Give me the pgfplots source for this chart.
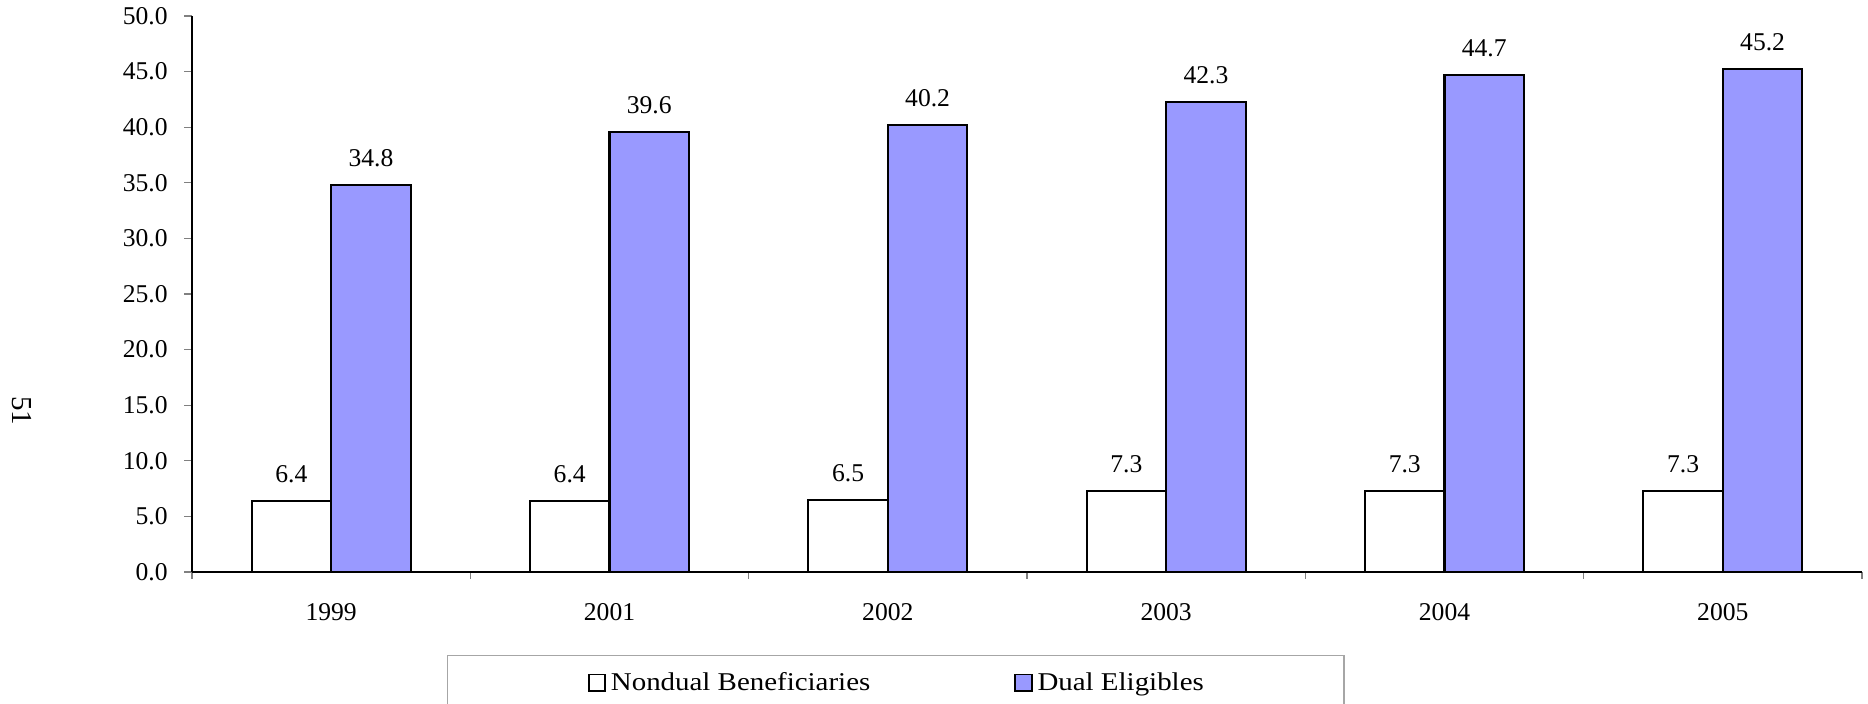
\documentclass[border=0pt]{standalone}
\usepackage{fontspec}
\setmainfont{Liberation Serif}
\newfontfamily\legendfont[FakeStretch=1.13]{Liberation Serif}
\usepackage{pgfplots}
\pgfplotsset{compat=1.18}
\definecolor{dualblue}{HTML}{9999FF}
\pgfplotsset{
  mylegend/.style={legend image code/.code={\draw[##1, line width=0.9pt] (0pt,-4.1pt) rectangle (8.2pt,4.1pt);}}
}
\begin{document}
\begin{tikzpicture}
\path[use as bounding box] (0,0) rectangle (934pt,352pt);
\begin{axis}[
  at={(96pt,66pt)}, anchor=south west,
  scale only axis, width=835pt, height=278pt,
  ybar=0pt, bar width=0.2857,
  xmin=-0.5, xmax=5.5, ymin=0, ymax=50,
  xtick={0,...,5}, xticklabels={1999,2001,2002,2003,2004,2005},
  minor xtick={-0.5,0.5,...,5.5},
  ytick={0,5,...,50},
  axis x line*=bottom, axis y line*=left,
  axis line style={black, line width=0.6pt, -},
  tick align=outside,
  major tick length=4pt, minor tick length=3.5pt,
  major x tick style={draw=none},
  tick style={gray, line width=0.6pt},
  /pgf/number format/.cd, fixed, fixed zerofill, precision=1, assume math mode=true,
  /pgfplots/.cd,
  xticklabel style={font=\fontsize{12.8}{15}\selectfont, inner sep=0pt, anchor=north, yshift=-11.5pt},
  yticklabel style={font=\fontsize{12.8}{15}\selectfont, inner sep=0pt, anchor=east, xshift=-8pt},
  nodes near coords,
  every node near coord/.append style={font=\fontsize{12.8}{15}\selectfont, anchor=south, inner sep=0pt, yshift=8.5pt, black},
  legend columns=2,
  legend style={at={(0.1527,-0.1493)}, anchor=north west, draw=gray!70, line width=0.7pt,
    font={\legendfont\fontsize{12.8}{15}\selectfont},
    inner xsep=70pt, inner ysep=8.25pt,
    nodes={inner sep=0pt}, cells={anchor=west},
    /tikz/every even column/.append style={column sep=72pt},
    /tikz/every odd column/.append style={column sep=2.5pt}},
]
\addplot[draw=black, fill=white, line width=1.1pt, mylegend] coordinates {(0,6.4)(1,6.4)(2,6.5)(3,7.3)(4,7.3)(5,7.3)};
\addplot[draw=black, fill=dualblue, line width=1.1pt, mylegend] coordinates {(0,34.8)(1,39.6)(2,40.2)(3,42.3)(4,44.7)(5,45.2)};
\legend{Nondual Beneficiaries, Dual Eligibles}
\end{axis}
\node[rotate=-90, font=\fontsize{14.5}{15}\selectfont] at (11pt,146.5pt) {51};
\end{tikzpicture}
\end{document}
